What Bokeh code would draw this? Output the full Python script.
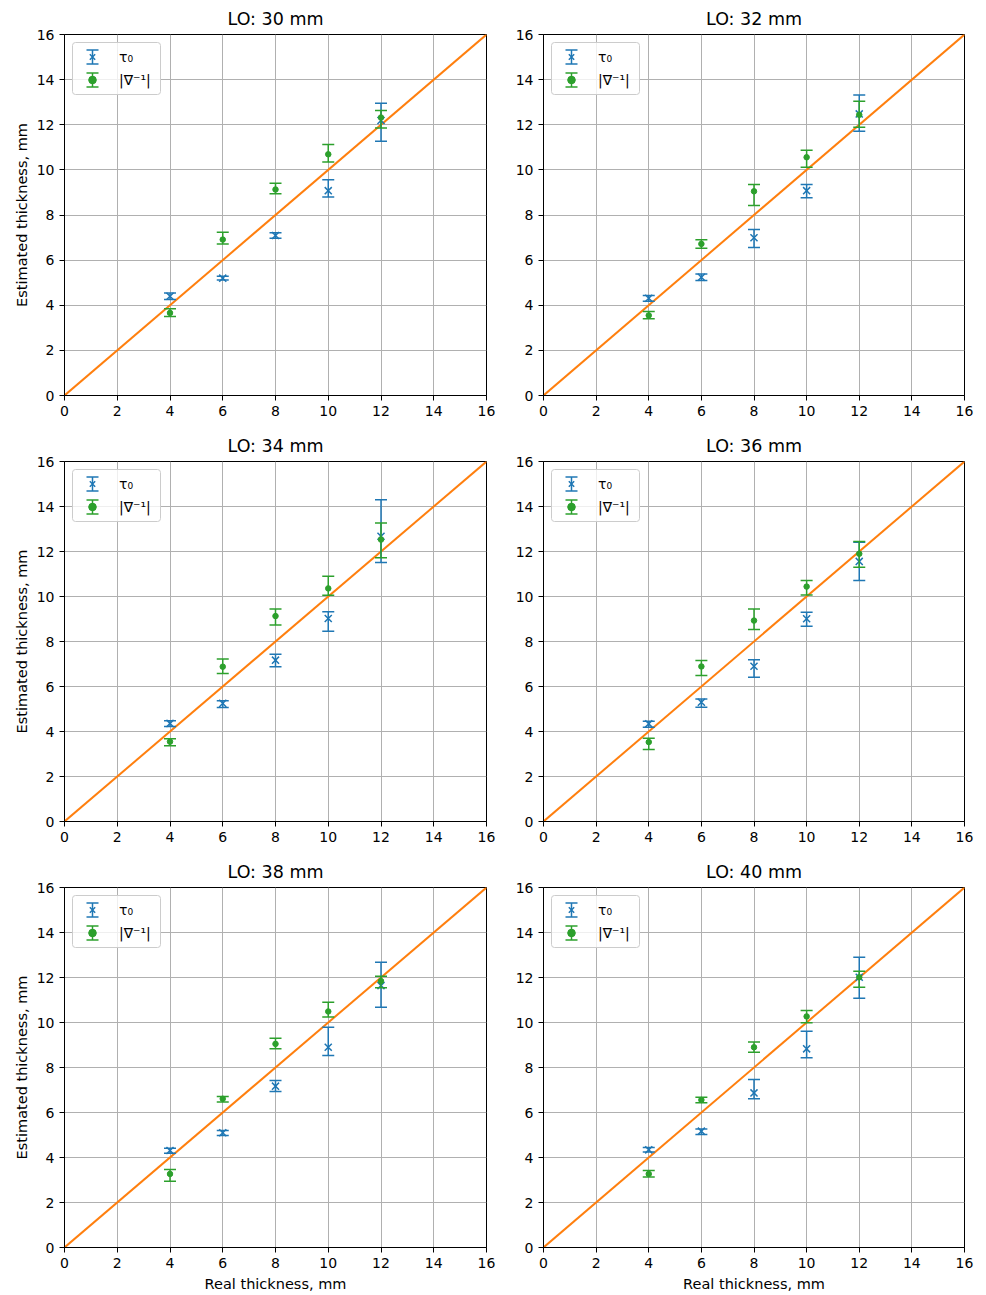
import numpy as np
from bokeh.plotting import figure
from bokeh.layouts import gridplot
from bokeh.models import (ColumnDataSource, Legend, LegendItem, FixedTicker,
                          Whisker, TeeHead, BoxAnnotation)
from bokeh.embed import file_html
from bokeh.resources import INLINE

# ---------------- data ----------------
real_thickness = [4, 6, 8, 10, 12]
lo_values = [30, 32, 34, 36, 38, 40]

tau_y = {
    30: [4.40, 5.20, 7.09, 9.08, 12.19],
    32: [4.31, 5.24, 6.99, 9.08, 12.48],
    34: [4.36, 5.25, 7.17, 9.02, 12.68],
    36: [4.34, 5.30, 6.90, 9.01, 11.56],
    38: [4.31, 5.10, 7.17, 8.90, 11.64],
    40: [4.34, 5.17, 6.87, 8.83, 12.01],
}
tau_low = {
    30: [4.26, 5.12, 6.97, 8.80, 11.27],
    32: [4.18, 5.10, 6.56, 8.76, 11.71],
    34: [4.22, 5.07, 6.88, 8.46, 11.51],
    36: [4.19, 5.08, 6.41, 8.68, 10.71],
    38: [4.19, 4.98, 6.93, 8.53, 10.68],
    40: [4.24, 5.02, 6.61, 8.43, 11.08],
}
tau_high = {
    30: [4.54, 5.28, 7.21, 9.56, 12.95],
    32: [4.43, 5.38, 7.36, 9.35, 13.32],
    34: [4.48, 5.37, 7.43, 9.32, 14.30],
    36: [4.46, 5.45, 7.19, 9.30, 12.41],
    38: [4.41, 5.20, 7.42, 9.79, 12.68],
    40: [4.44, 5.27, 7.47, 9.61, 12.90],
}
grad_y = {
    30: [3.66, 6.91, 9.13, 10.69, 12.32],
    32: [3.55, 6.72, 9.05, 10.56, 12.44],
    34: [3.55, 6.88, 9.13, 10.36, 12.53],
    36: [3.53, 6.89, 8.93, 10.44, 11.90],
    38: [3.27, 6.61, 9.05, 10.49, 11.84],
    40: [3.27, 6.56, 8.90, 10.27, 12.01],
}
grad_low = {
    30: [3.50, 6.72, 8.94, 10.35, 11.86],
    32: [3.40, 6.53, 8.42, 10.12, 11.89],
    34: [3.37, 6.58, 8.73, 10.06, 11.72],
    36: [3.20, 6.49, 8.53, 10.07, 11.30],
    38: [2.95, 6.47, 8.83, 10.24, 11.54],
    40: [3.13, 6.43, 8.68, 9.99, 11.57],
}
grad_high = {
    30: [3.84, 7.24, 9.41, 11.12, 12.63],
    32: [3.72, 6.90, 9.35, 10.87, 13.04],
    34: [3.68, 7.22, 9.44, 10.90, 13.27],
    36: [3.70, 7.16, 9.45, 10.71, 12.44],
    38: [3.47, 6.71, 9.30, 10.90, 12.06],
    40: [3.42, 6.68, 9.13, 10.53, 12.28],
}
ideal_line = [0, 16]
axis_ticks = [0, 2, 4, 6, 8, 10, 12, 14, 16]
legend_labels = ["τ₀", "|∇⁻¹|"]

TAU_COLOR = "#1f77b4"
GRAD_COLOR = "#2ca02c"
LINE_COLOR = "#ff7f0e"
FONT = "DejaVu Sans"

# legend geometry (screen px)
LEG_MARGIN = 8
LEG_PAD = 5
LEG_GW = 30
LEG_GH = 19
LEG_SP = 4
LEG_W = 88
LEG_H = 2 * LEG_PAD + 2 * LEG_GH + LEG_SP


def make_panel(lo, col, row_idx):
    left = col == 0
    bottom = row_idx == 2
    fh = 361 if row_idx == 0 else 360
    p = figure(
        frame_width=422 if left else 421,
        frame_height=fh,
        x_range=(0, 16), y_range=(0, 16),
        output_backend="svg", toolbar_location=None,
        min_border_left=64 if left else 37,
        min_border_right=20 if left else 12,
        min_border_top=34 if row_idx == 0 else 36,
        min_border_bottom=46 if bottom else 30,
        title=f"LO: {lo} mm",
    )
    p.title.align = "center"
    p.title.text_font = FONT
    p.title.text_font_size = "17.5px"
    p.title.text_font_style = "normal"
    p.title.text_color = "black"
    p.title.offset = 0
    p.title.standoff = 11

    p.outline_line_color = "black"
    p.outline_line_width = 1
    p.outline_line_alpha = 1
    p.background_fill_color = "white"
    p.border_fill_color = "white"

    for ax in (p.xaxis[0], p.yaxis[0]):
        ax.ticker = FixedTicker(ticks=axis_ticks)
        ax.minor_tick_line_color = None
        ax.major_tick_in = 0
        ax.major_tick_out = 5
        ax.major_tick_line_color = "black"
        ax.axis_line_color = "black"
        ax.major_label_text_font = FONT
        ax.major_label_text_font_size = "14px"
        ax.major_label_text_color = "black"
        ax.major_label_standoff = 5
        ax.axis_label_text_font = FONT
        ax.axis_label_text_font_size = "14.5px"
        ax.axis_label_text_font_style = "normal"
        ax.axis_label_text_color = "black"
    p.xaxis[0].axis_label_standoff = 5
    p.yaxis[0].axis_label_standoff = 4
    if left:
        p.yaxis[0].axis_label = "Estimated thickness, mm"
    if bottom:
        p.xaxis[0].axis_label = "Real thickness, mm"

    for g in (p.xgrid[0], p.ygrid[0]):
        g.ticker = FixedTicker(ticks=axis_ticks)
        g.grid_line_color = "#b0b0b0"
        g.grid_line_width = 1
        g.grid_line_alpha = 1

    p.line(ideal_line, ideal_line, line_color=LINE_COLOR, line_width=2)

    src_t = ColumnDataSource(dict(x=real_thickness, y=tau_y[lo],
                                  lo=tau_low[lo], hi=tau_high[lo]))
    src_g = ColumnDataSource(dict(x=real_thickness, y=grad_y[lo],
                                  lo=grad_low[lo], hi=grad_high[lo]))

    marker_renderers = []
    for src, color, marker, msize in (
        (src_t, TAU_COLOR, "x", 10),
        (src_g, GRAD_COLOR, "circle", 5.5),
    ):
        p.segment(x0="x", y0="lo", x1="x", y1="hi", source=src,
                  line_color=color, line_width=1.5)
        p.scatter("x", "lo", source=src, marker="dash", size=12,
                  line_color=color, line_width=1.5)
        p.scatter("x", "hi", source=src, marker="dash", size=12,
                  line_color=color, line_width=1.5)
        if marker == "x":
            m = p.scatter("x", "y", source=src, marker="x", size=msize,
                          line_color=color, line_width=1.5)
        else:
            m = p.scatter("x", "y", source=src, marker="circle", size=msize,
                          fill_color=color, line_color=color)
        marker_renderers.append(m)

    # legend background box (screen units, frame-relative)
    box = BoxAnnotation(left=LEG_MARGIN, right=LEG_MARGIN + LEG_W,
                        top=fh - LEG_MARGIN, bottom=fh - LEG_MARGIN - LEG_H,
                        left_units="screen", right_units="screen",
                        top_units="screen", bottom_units="screen",
                        fill_color="white", fill_alpha=0.8,
                        line_color="#cccccc", line_width=1, line_alpha=1,
                        border_radius=3, level="annotation")
    p.add_layout(box)

    # error-bar icons for the legend entries
    cx = LEG_MARGIN + LEG_PAD + LEG_GW / 2
    for k, color in enumerate((TAU_COLOR, GRAD_COLOR)):
        cy = fh - (LEG_MARGIN + LEG_PAD + LEG_GH / 2 + k * (LEG_GH + LEG_SP))
        ws = ColumnDataSource(dict(base=[cx], lower=[cy - 7], upper=[cy + 7]))
        w = Whisker(source=ws, base="base", lower="lower", upper="upper",
                    dimension="height", level="overlay",
                    base_units="screen", lower_units="screen", upper_units="screen",
                    line_color=color, line_width=1.5,
                    upper_head=TeeHead(size=12, line_color=color, line_width=1.5),
                    lower_head=TeeHead(size=12, line_color=color, line_width=1.5))
        p.add_layout(w)

    legend = Legend(
        items=[LegendItem(label=legend_labels[0], renderers=[marker_renderers[0]]),
               LegendItem(label=legend_labels[1], renderers=[marker_renderers[1]])],
        location="top_left",
        margin=LEG_MARGIN, padding=LEG_PAD, spacing=LEG_SP,
        glyph_width=LEG_GW, glyph_height=LEG_GH, label_height=LEG_GH,
        label_standoff=12,
        label_text_font=FONT, label_text_font_size="14px",
        label_text_color="black",
        border_line_color="#cccccc", border_line_alpha=0,
        background_fill_color="white", background_fill_alpha=0,
    )
    p.add_layout(legend)
    return p


rows = []
for r in range(3):
    rows.append([make_panel(lo_values[2 * r + c], c, r) for c in range(2)])

grid = gridplot(rows, toolbar_location=None)

open("out.html", "w").write(file_html(grid, INLINE))
